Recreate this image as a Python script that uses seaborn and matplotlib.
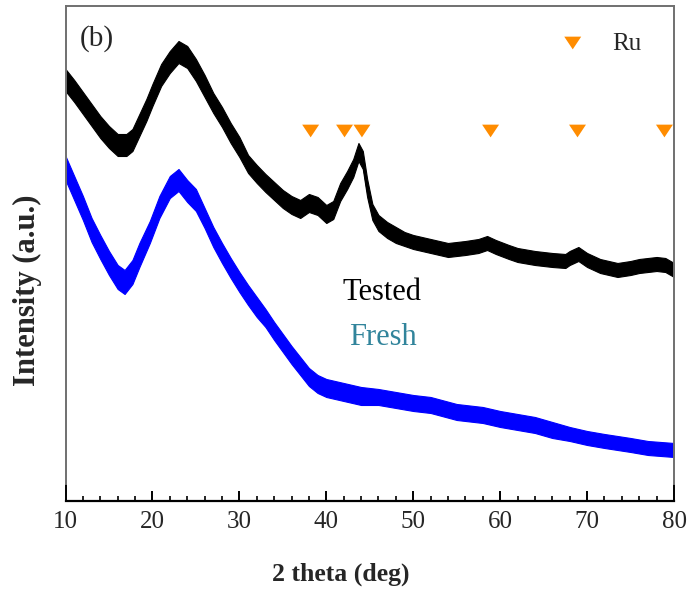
import numpy as np
import pandas as pd
import matplotlib
matplotlib.use("Agg")
import matplotlib.pyplot as plt
import seaborn as sns

# ---- data ----
tested_deg = [10, 11, 12, 13, 14, 15, 16, 17, 17.7, 18.5, 19.3, 20, 21, 22, 23, 24, 25, 26, 27, 28,
              29, 30, 31, 32, 33, 34, 35, 36, 37, 38, 39, 40, 40.8, 41.6, 42.4, 43.1, 43.7, 44.2, 44.7, 45.3,
              46, 47, 48, 49, 50, 52, 54, 56, 57.5, 58.5, 59.5, 61, 62, 64, 66, 67.5, 68, 69, 70, 71.5,
              73.5, 75, 76, 78, 79, 80]
tested_int = [404, 393, 381, 369, 357, 347, 339, 339, 344, 359, 374, 389, 409, 422, 432, 427, 414, 398, 381, 367,
              351, 337, 320, 310, 301, 293, 285, 279, 275, 281, 278, 270, 274, 292, 304, 316, 332, 324, 296, 272,
              261, 254, 249, 245, 242, 238, 234, 236, 238, 241, 237, 232, 229, 226, 224, 223, 226, 230, 224, 218,
              214, 216, 218, 220, 219, 214]
tested_noise = [11, 11, 11, 11, 11, 11, 11, 11, 11, 11, 11, 11, 11, 11, 11, 11, 11, 11, 10, 10,
                10, 10, 9, 9, 9, 9, 9, 9, 9, 9, 9, 9, 9, 9, 9, 9, 9, 9, 9, 8,
                8, 8, 8, 7, 7, 7, 7, 7, 7, 7, 7, 7, 7, 7, 7, 7, 7, 7, 7, 7,
                7, 7, 7, 7, 7, 7]

fresh_deg = [10, 11, 12, 13, 14, 15, 16, 16.8, 17.7, 18.5, 19.7, 20.8, 22, 23, 24, 25, 26, 27, 28, 29,
             30, 31, 32, 33, 34, 35, 36, 37, 38, 39, 40, 42, 44, 46, 48, 50, 52, 55, 58, 60,
             62, 64, 66, 68, 70, 72, 75, 77, 80]
fresh_int = [316, 296, 276, 254, 237, 221, 207, 202, 212, 229, 252, 277, 297, 304, 293, 284, 266, 247, 231, 216,
             202, 189, 177, 166, 153, 141, 129, 118, 107, 100, 96, 92, 88, 87, 84, 81, 79, 72, 69, 65,
             62, 59, 54, 50, 46, 43, 39, 36, 34]
fresh_noise = [12, 12, 12, 12, 12, 12, 12, 12, 12, 12, 11, 11, 11, 11, 11, 11, 10, 10, 10, 10,
               10, 10, 10, 9, 9, 9, 9, 9, 9, 9, 9, 9, 9, 8, 8, 8, 8, 8, 8, 8,
               8, 8, 8, 7, 7, 7, 7, 7, 7]

ru_peaks = [38.2, 42.1, 44.1, 58.9, 68.9, 78.9]
ru_level = [353, 353, 353, 353, 353, 353]

x_ticks = [10, 20, 30, 40, 50, 60, 70, 80]

# ---- style ----
sns.set_style("white")
plt.rcParams['font.family'] = ['Liberation Serif', 'DejaVu Serif']

fig = plt.figure(figsize=(6.91, 5.94), dpi=100)
ax = fig.add_axes([0.0948, 0.1852, 0.8806, 0.8047])

tested_df = pd.DataFrame({"deg": tested_deg, "I": tested_int})
fresh_df = pd.DataFrame({"deg": fresh_deg, "I": fresh_int})

black = "#000000"
blue = "#0000FF"

t = np.array(tested_int, float); tn = np.array(tested_noise, float)
f = np.array(fresh_int, float); fn = np.array(fresh_noise, float)
ax.fill_between(tested_deg, t - tn, t + tn, color=black, lw=0.8, edgecolor=black)
ax.fill_between(fresh_deg, f - fn, f + fn, color=blue, lw=0.8, edgecolor=blue)
sns.lineplot(data=tested_df, x="deg", y="I", color=black, lw=1.5, ax=ax)
sns.lineplot(data=fresh_df, x="deg", y="I", color=blue, lw=1.5, ax=ax)

tri = [(-1, 0.75), (1, 0.75), (0, -0.75)]
orange = "#FF8C00"
ru_df = pd.DataFrame({"deg": ru_peaks, "y": ru_level})
sns.scatterplot(data=ru_df, x="deg", y="y", marker=tri, s=12.2 ** 2, color=orange,
                edgecolor="none", ax=ax, zorder=5)
ax.scatter([68.35], [441], marker=tri, s=12.2 ** 2, color=orange, edgecolor="none", zorder=5)
ax.text(72.9, 440, "Ru", fontsize=18, ha="left", va="center")

ax.text(11.67, 445, "(b)", fontsize=21, ha="left", va="center")
ax.text(46.4, 191, "Tested", fontsize=22, ha="center", va="center", color="black")
ax.text(46.5, 146, "Fresh", fontsize=22, ha="center", va="center", color="#31849B")

ax.set_xlim(10, 80)
ax.set_ylim(0, 478)
ax.set_xticks(x_ticks)
ax.set_xticks(np.arange(10, 81, 2), minor=True)
ax.set_yticks([])
ax.set_xticklabels([str(v) for v in x_ticks])

for side in ["top", "left", "right"]:
    ax.spines[side].set_color("#707070")
    ax.spines[side].set_linewidth(1.4)
ax.spines["bottom"].set_position(("outward", 12.3))
ax.spines["bottom"].set_color("black")
ax.spines["bottom"].set_linewidth(1.6)

ax.tick_params(axis="x", which="major", direction="in", length=7.2, width=1.4, color="black", pad=7,
               labelsize=18, bottom=True, top=False)
ax.tick_params(axis="x", which="minor", direction="in", length=3.6, width=1.2, color="black",
               bottom=True, top=False)
majors = ax.xaxis.get_major_ticks()
majors[0].tick1line.set_markersize(12.5)
majors[-1].tick1line.set_markersize(12.5)

ax.set_xlabel("2 theta (deg)", fontsize=18.5, fontweight="bold")
ax.xaxis.set_label_coords(0.4527, -0.165)
ax.set_ylabel("Intensity (a.u.)", fontsize=22, fontweight="bold")
ax.yaxis.set_label_coords(-0.039, 0.406)

fig.savefig("out.png", dpi=100)
